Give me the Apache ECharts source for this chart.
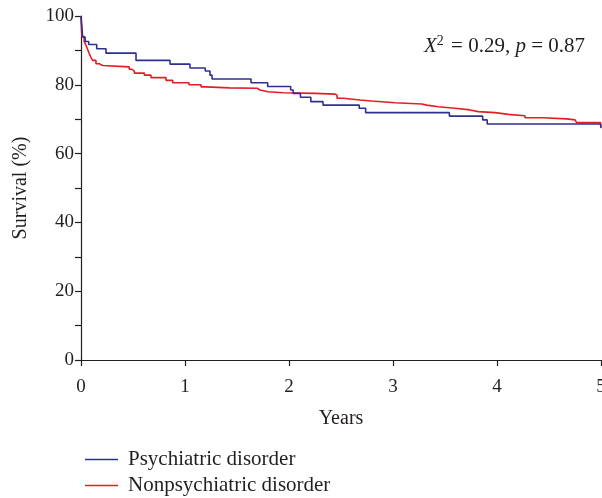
<!DOCTYPE html>
<html>
<head>
<meta charset="utf-8">
<script src="https://cdn.jsdelivr.net/npm/echarts@6/dist/echarts.min.js"></script>
<style>html,body{margin:0;padding:0;background:#fff}#c{width:602px;height:498px}</style>
</head>
<body>
<div id="c"></div>
<script>
var seriesNames = ['Psychiatric disorder', 'Nonpsychiatric disorder'];
var xTicks = [0, 1, 2, 3, 4, 5];
var yTicks = [0, 20, 40, 60, 80, 100];
// Kaplan-Meier step points: [years, survival %] (value holds until next time)
var psychiatric = [
  [0, 100], [0.016, 93.9], [0.04, 92.6], [0.074, 91.7], [0.151, 90.5], [0.24, 89.2],
  [0.529, 87.1], [0.856, 86.0], [1.048, 84.9], [1.195, 84.0], [1.24, 82.8], [1.26, 81.7],
  [1.635, 80.6], [1.795, 79.5], [2.016, 78.5], [2.04, 77.5], [2.11, 76.4], [2.21, 75.1],
  [2.327, 74.1], [2.675, 73.2], [2.737, 71.9], [3.542, 70.9], [3.862, 69.8], [3.906, 68.6],
  [4.995, 68.6], [5.0, 67.4]
];
var nonpsychiatric = [
  [0, 100], [0.005, 96], [0.01, 94], [0.03, 92.6], [0.048, 91.5], [0.065, 90.2], [0.08, 89],
  [0.095, 88], [0.112, 87.1], [0.144, 86.1], [0.175, 85.6], [0.209, 85.2], [0.464, 84.5],
  [0.49, 84.0], [0.513, 83.4], [0.609, 82.8], [0.673, 82.1], [0.817, 81.3], [0.882, 80.6],
  [1.038, 80.0], [1.154, 79.4], [1.202, 79.1], [1.426, 79.0], [1.695, 78.5], [1.721, 78.0],
  [1.798, 77.7], [1.945, 77.5], [2.25, 77.3], [2.442, 77.0], [2.462, 76.1], [2.522, 75.6],
  [2.683, 75.3], [2.795, 74.8], [3.019, 74.4], [3.276, 74.1], [3.324, 73.6], [3.436, 73.2],
  [3.596, 72.7], [3.74, 72.2], [3.82, 71.9], [3.981, 71.4], [4.109, 71.0], [4.269, 70.4],
  [4.445, 70.1], [4.67, 69.8], [4.75, 69.3], [4.766, 69.0], [4.995, 69.0], [5.0, 67.8]
];
var statText = ['X', '2', ' = 0.29, ', 'p', ' = 0.87'];

var FONT = 'Liberation Serif';
var INK = '#231f20';
function legendFor(name, top) {
  return {
    orient: 'vertical', left: 85, top: top, itemWidth: 33, itemHeight: 1.5,
    icon: 'rect', padding: 0,
    textStyle: {fontFamily: FONT, fontSize: 21, color: INK, padding: [0, 0, 0, 5]},
    data: [name]
  };
}
var chart = echarts.init(document.getElementById('c'), null, {renderer: 'canvas'});
chart.setOption({
  animation: false,
  backgroundColor: '#fff',
  grid: {left: 81, right: 1, top: 16, bottom: 138, containLabel: false, outerBoundsMode: 'none'},
  xAxis: {
    type: 'value', min: xTicks[0], max: xTicks[xTicks.length - 1], interval: 1,
    name: 'Years', nameLocation: 'middle', nameGap: 49,
    nameTextStyle: {fontFamily: FONT, fontSize: 20, color: INK},
    axisLine: {show: true, onZero: false, lineStyle: {color: INK, width: 1.2}},
    axisTick: {show: true, inside: false, length: 6, lineStyle: {color: INK, width: 1.2}},
    axisLabel: {fontFamily: FONT, fontSize: 19, color: INK, margin: 18, hideOverlap: false},
    splitLine: {show: false}
  },
  yAxis: {
    type: 'value', min: yTicks[0], max: yTicks[yTicks.length - 1], interval: 20,
    name: 'Survival (%)', nameLocation: 'middle', nameGap: 50, nameRotate: 90,
    nameTextStyle: {fontFamily: FONT, fontSize: 20, color: INK},
    axisLine: {show: true, lineStyle: {color: INK, width: 1.2}},
    axisTick: {show: true, inside: false, length: 6, lineStyle: {color: INK, width: 1.2}},
    minorTick: {show: true, splitNumber: 2, length: 6, lineStyle: {color: INK, width: 1.2}},
    axisLabel: {fontFamily: FONT, fontSize: 19, color: INK, margin: 7},
    splitLine: {show: false}
  },
  legend: [legendFor(seriesNames[0], 449), legendFor(seriesNames[1], 475)],
  graphic: [{
    type: 'text', left: 424, top: 34,
    style: {
      text: '{i|' + statText[0] + '}{s|' + statText[1] + '}{n|' + statText[2] + '}{i|' + statText[3] + '}{n|' + statText[4] + '}',
      rich: {
        i: {fontFamily: FONT, fontSize: 21, fontStyle: 'italic', fill: INK, verticalAlign: 'bottom'},
        s: {fontFamily: FONT, fontSize: 14, fill: INK, verticalAlign: 'bottom', padding: [0, 2, 9, 0]},
        n: {fontFamily: FONT, fontSize: 21, fill: INK, verticalAlign: 'bottom'}
      }
    }
  }],
  series: [
    {name: seriesNames[0], type: 'line', step: 'end', symbol: 'none', data: psychiatric,
     lineStyle: {color: '#2e3192', width: 1.6}, itemStyle: {color: '#2e3192'}, z: 3},
    {name: seriesNames[1], type: 'line', step: 'end', symbol: 'none', data: nonpsychiatric,
     lineStyle: {color: '#e31e24', width: 1.6}, itemStyle: {color: '#e31e24'}, z: 2}
  ]
});
</script>
</body>
</html>
